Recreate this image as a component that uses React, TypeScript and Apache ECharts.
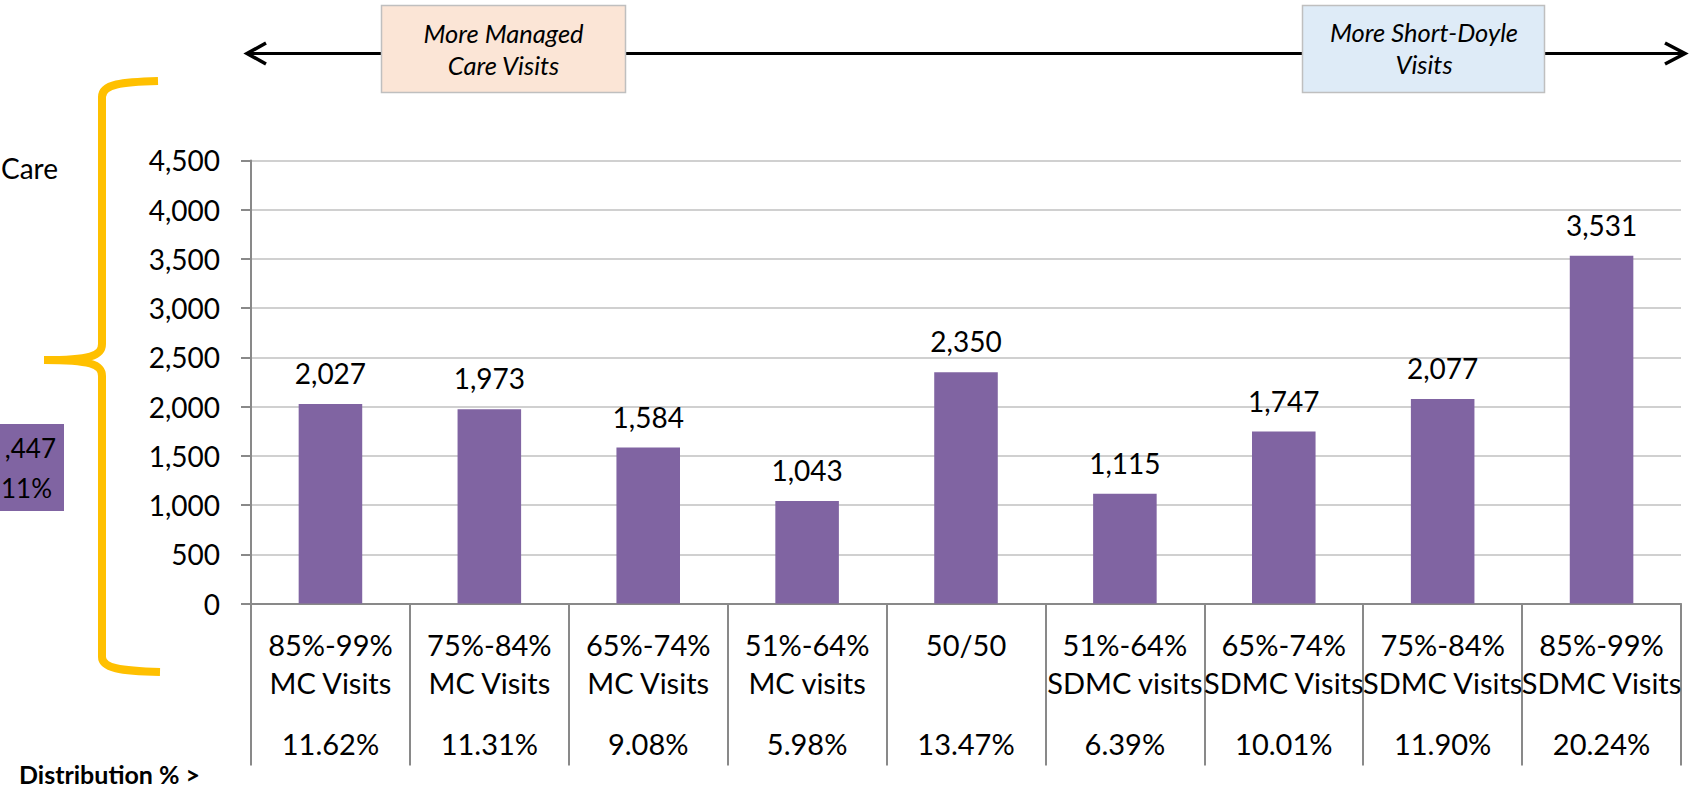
import React, { useEffect, useRef } from "react";
import * as echarts from "echarts";

const rangeLabels = ["85%-99%", "75%-84%", "65%-74%", "51%-64%", "50/50", "51%-64%", "65%-74%", "75%-84%", "85%-99%"];
const visitLabels = ["MC Visits", "MC Visits", "MC Visits", "MC visits", "", "SDMC visits", "SDMC Visits", "SDMC Visits", "SDMC Visits"];
const distribution = ["11.62%", "11.31%", "9.08%", "5.98%", "13.47%", "6.39%", "10.01%", "11.90%", "20.24%"];
const visitValues = [2027, 1973, 1584, 1043, 2350, 1115, 1747, 2077, 3531];
const yMin = 0;
const yMax = 4500;
const yStep = 500;

const FONT = "Lato";
const fmt = (v: number) => Number(v).toLocaleString("en-US");

const BRACE_D =
  "M158,81 C122,82 102,84 102,97 L102,344 C102,356 90,360 44,360 M44,360 C90,360 102,364 102,376 L102,657 C102,668 120,671 160,672";

export default function App() {
  const ref = useRef<HTMLDivElement>(null);
  useEffect(() => {
    document.body.style.margin = "0";
    if (!ref.current) return;
    try {
      echarts.graphic.registerShape("brace", echarts.graphic.extendPath(BRACE_D, {}) as any);
    } catch (e) {}
    const chart = echarts.init(ref.current, undefined, { renderer: "svg" });
    const categories = rangeLabels.map((r, i) => (visitLabels[i] ? r + "\n" + visitLabels[i] : r));
    const textStyle = (size: number, extra: any = {}) => ({
      fontFamily: FONT,
      fontSize: size,
      fill: "#000",
      ...extra,
    });
    chart.setOption({
      animation: false,
      backgroundColor: "#fff",
      grid: { left: 251, right: 18, top: 160.4, bottom: 185.4, containLabel: false },
      xAxis: [
        {
          type: "category",
          data: categories,
          position: "bottom",
          axisLine: { show: true, lineStyle: { color: "#898989", width: 2 } },
          axisTick: { show: true, length: 162, lineStyle: { color: "#898989", width: 2 } },
          axisLabel: {
            interval: 0,
            margin: 22,
            fontFamily: FONT,
            fontSize: 29,
            lineHeight: 38,
            color: "#000",
          },
          splitLine: { show: false },
        },
        {
          type: "category",
          data: distribution,
          position: "bottom",
          axisLine: { show: false },
          axisTick: { show: false },
          axisLabel: {
            interval: 0,
            margin: 121,
            fontFamily: FONT,
            fontSize: 29,
            lineHeight: 38,
            color: "#000",
          },
          splitLine: { show: false },
        },
      ],
      yAxis: {
        type: "value",
        min: yMin,
        max: yMax,
        interval: yStep,
        axisLine: { show: true, lineStyle: { color: "#898989", width: 2 } },
        axisTick: { show: true, length: 10, lineStyle: { color: "#898989", width: 2 } },
        axisLabel: {
          margin: 31,
          fontFamily: FONT,
          fontSize: 28,
          color: "#000",
          formatter: (v: number) => fmt(v),
        },
        splitLine: { show: true, lineStyle: { color: "#d0d0d0", width: 2 } },
      },
      series: [
        {
          type: "bar",
          xAxisIndex: 0,
          data: visitValues,
          barWidth: "40%",
          itemStyle: { color: "#8064A2" },
          label: {
            show: true,
            position: "top",
            distance: 17,
            fontFamily: FONT,
            fontSize: 28,
            lineHeight: 28,
            color: "#000",
            formatter: (p: any) => fmt(p.value),
          },
        },
      ],
      graphic: [
        { type: "line", z: 1, shape: { x1: 246, y1: 53.5, x2: 1686, y2: 53.5 }, style: { stroke: "#000", lineWidth: 3 } },
        { type: "polyline", z: 1, shape: { points: [[266, 43], [247, 53.5], [266, 64]] }, style: { stroke: "#000", lineWidth: 3.5, fill: "none" } },
        { type: "polyline", z: 1, shape: { points: [[1665, 43], [1685, 53.5], [1665, 64]] }, style: { stroke: "#000", lineWidth: 3.5, fill: "none" } },
        { type: "rect", z: 2, shape: { x: 381.5, y: 5.5, width: 244, height: 87 }, style: { fill: "#FBE5D6", stroke: "#BFBFBF", lineWidth: 1.5 } },
        {
          type: "text",
          z: 3,
          x: 503.5,
          y: 49,
          style: textStyle(25.5, {
            text: "More Managed\nCare Visits",
            fontStyle: "italic",
            lineHeight: 32,
            align: "center",
            textAlign: "center",
            verticalAlign: "middle",
            textVerticalAlign: "middle",
            fill: "#000",
          }),
        },
        { type: "rect", z: 2, shape: { x: 1302.5, y: 5.5, width: 242, height: 87 }, style: { fill: "#DEEBF7", stroke: "#BFBFBF", lineWidth: 1.5 } },
        {
          type: "text",
          z: 3,
          x: 1424,
          y: 48,
          style: textStyle(25.5, {
            text: "More Short-Doyle\nVisits",
            fontStyle: "italic",
            lineHeight: 32,
            align: "center",
            textAlign: "center",
            verticalAlign: "middle",
            textVerticalAlign: "middle",
            fill: "#000",
          }),
        },
        { type: "brace", z: 2, x: 0, y: 0, style: { stroke: "#FFC000", lineWidth: 8, fill: "none" } },
        {
          type: "text",
          z: 3,
          x: 58,
          y: 168,
          style: textStyle(28, { text: "Care", align: "right", textAlign: "right", verticalAlign: "middle", textVerticalAlign: "middle" }),
        },
        { type: "rect", z: 2, shape: { x: 0, y: 424, width: 64, height: 87 }, style: { fill: "#8064A2" } },
        {
          type: "text",
          z: 3,
          x: 56,
          y: 448,
          style: textStyle(26, { text: ",447", align: "right", textAlign: "right", verticalAlign: "middle", textVerticalAlign: "middle" }),
        },
        {
          type: "text",
          z: 3,
          x: 52,
          y: 488,
          style: textStyle(26, { text: "11%", align: "right", textAlign: "right", verticalAlign: "middle", textVerticalAlign: "middle" }),
        },
        {
          type: "text",
          z: 3,
          x: 19,
          y: 774,
          style: textStyle(25, {
            text: "Distribution % >",
            fontWeight: "bold",
            lineHeight: 26,
            align: "left",
            textAlign: "left",
            verticalAlign: "middle",
            textVerticalAlign: "middle",
          }),
        },
      ],
    });
    return () => chart.dispose();
  }, []);
  return <div ref={ref} style={{ width: 1699, height: 789 }} />;
}
